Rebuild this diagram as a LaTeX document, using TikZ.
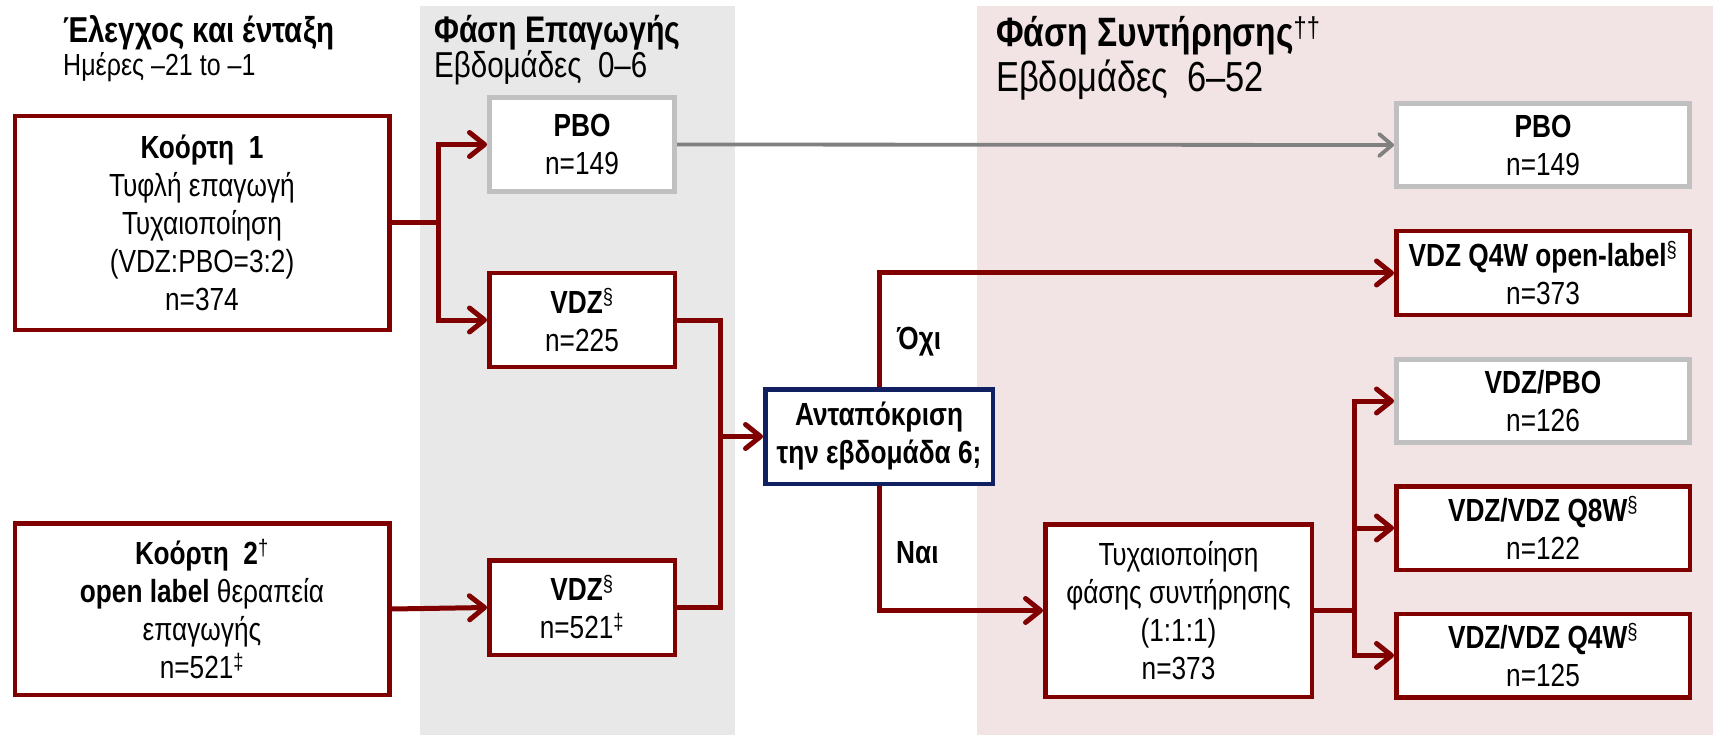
\documentclass[tikz,border=0pt]{standalone}
\usepackage{fontspec}
\setmainfont{Liberation Sans}[FakeStretch=0.82]
\usetikzlibrary{arrows.meta}
\definecolor{dred}{RGB}{128,0,0}
\definecolor{navyb}{RGB}{16,32,96}
\definecolor{gbord}{RGB}{192,192,192}
\definecolor{garrow}{RGB}{128,128,128}
\definecolor{gband}{RGB}{232,232,232}
\definecolor{pband}{RGB}{242,228,229}
\begin{document}
\begin{tikzpicture}[x=1pt,y=-1pt,
  boxbase/.style={fill=white, align=center, inner sep=0pt, line width=4.5pt,
    font=\fontsize{32}{38}\selectfont},
  redbox/.style={boxbase, draw=dred},
  graybox/.style={boxbase, draw=gbord, line width=5pt},
  bluebox/.style={boxbase, draw=navyb},
  conn/.style={draw=dred, line width=5pt},
  arr/.style={conn, -{Straight Barb[length=15pt,width=24pt,round]}},
  garr/.style={draw=garrow, line width=3.8pt, -{Straight Barb[length=13pt,width=22pt,round]}},
  ttl/.style={anchor=west, inner sep=0pt},
  lbl/.style={anchor=west, inner sep=0pt, font=\fontsize{32}{38}\selectfont\bfseries}
]
\useasboundingbox (0,0) rectangle (1713,735);
\fill[white] (0,0) rectangle (1713,735);
\fill[gband] (420,6) rectangle (735,735);
\fill[pband] (977,6) rectangle (1713,735);

% titles
\node[ttl, font=\fontsize{36}{40}\selectfont\bfseries] (t1) at (63,33) {Έλεγχος και ένταξη};
\node[ttl, font=\fontsize{30.5}{34}\selectfont] (s1) at (63,67) {Ημέρες –21 to –1};
\node[ttl, font=\fontsize{37}{40}\selectfont\bfseries] (t2) at (434,33) {Φάση Επαγωγής};
\node[ttl, font=\fontsize{36}{40}\selectfont] (s2) at (434,68) {Εβδομάδες\ \ 0–6};
\node[ttl, font=\fontsize{41}{44}\selectfont\bfseries] (t3) at (996,36) {Φάση Συντήρησης\textsuperscript{\normalfont ††}};
\node[ttl, font=\fontsize{42}{46}\selectfont] (s3) at (996,80) {Εβδομάδες\ \ 6–52};

% boxes
\node[redbox, minimum width=374.5pt, minimum height=213.5pt] (c1) at (202,223)
  {\textbf{Κοόρτη\ \ 1}\\Τυφλή επαγωγή\\Τυχαιοποίηση\\(VDZ:PBO=3:2)\\n=374};
\node[redbox, minimum width=374.5pt, minimum height=171.5pt] (c2) at (202,609)
  {\textbf{Κοόρτη\ \ 2}\textsuperscript{†}\\\textbf{open label} θεραπεία\\επαγωγής\\n=521\textsuperscript{‡}};
\node[graybox, minimum width=185pt, minimum height=94pt] (pboI) at (582,144.5)
  {\textbf{PBO}\\n=149};
\node[redbox, minimum width=185.5pt, minimum height=93.5pt] (vdzA) at (582,320)
  {\textbf{VDZ}\textsuperscript{§}\\n=225};
\node[redbox, minimum width=185.5pt, minimum height=94.5pt] (vdzB) at (582,607.5)
  {\textbf{VDZ}\textsuperscript{§}\\n=521\textsuperscript{‡}};
\node[bluebox, minimum width=227.5pt, minimum height=94.5pt] (resp) at (879,436.5)
  {\textbf{Ανταπόκριση}\\\textbf{την εβδομάδα 6;}};
\node[redbox, minimum width=266.5pt, minimum height=172.5pt] (rand) at (1178.5,610.5)
  {Τυχαιοποίηση\\φάσης συντήρησης\\(1:1:1)\\n=373};
\node[graybox, minimum width=293pt, minimum height=83pt] (pboM) at (1543,145)
  {\textbf{PBO}\\n=149};
\node[redbox, minimum width=293.5pt, minimum height=83.5pt] (ol) at (1543,273)
  {\textbf{VDZ Q4W open-label}\textsuperscript{§}\\n=373};
\node[graybox, minimum width=293pt, minimum height=83pt] (vp) at (1543,401)
  {\textbf{VDZ/PBO}\\n=126};
\node[redbox, minimum width=293.5pt, minimum height=83.5pt] (q8) at (1543,528)
  {\textbf{VDZ/VDZ Q8W}\textsuperscript{§}\\n=122};
\node[redbox, minimum width=293.5pt, minimum height=83.5pt] (q4) at (1543,655.5)
  {\textbf{VDZ/VDZ Q4W}\textsuperscript{§}\\n=125};

% junctions
\coordinate (j1) at (438,223);
\coordinate (j2) at (720,436.5);
\coordinate (j3) at (1354,610.5);

% connectors
\draw[conn] (c1.east) -- (j1);
\draw[arr] (j1) |- (pboI.west);
\draw[arr] (j1) |- (vdzA.west);
\draw[arr] (c2.east) -- (vdzB.west);
\draw[conn] (vdzA.east) -| (j2) |- (vdzB.east);
\draw[arr] (j2) -- (resp.west);
\draw[garr] (pboI.east) -- (pboM.west);
\draw[arr] (resp.north) |- (ol.west);
\draw[arr] (resp.south) |- (rand.west);
\draw[conn] (rand.east) -- (j3);
\draw[arr] (j3) |- (vp.west);
\draw[arr] (j3) |- (q8.west);
\draw[arr] (j3) |- (q4.west);

% labels
\node[lbl] (no) at (897,342) {Όχι};
\node[lbl] (yes) at (896,553) {Ναι};
\end{tikzpicture}
\end{document}
